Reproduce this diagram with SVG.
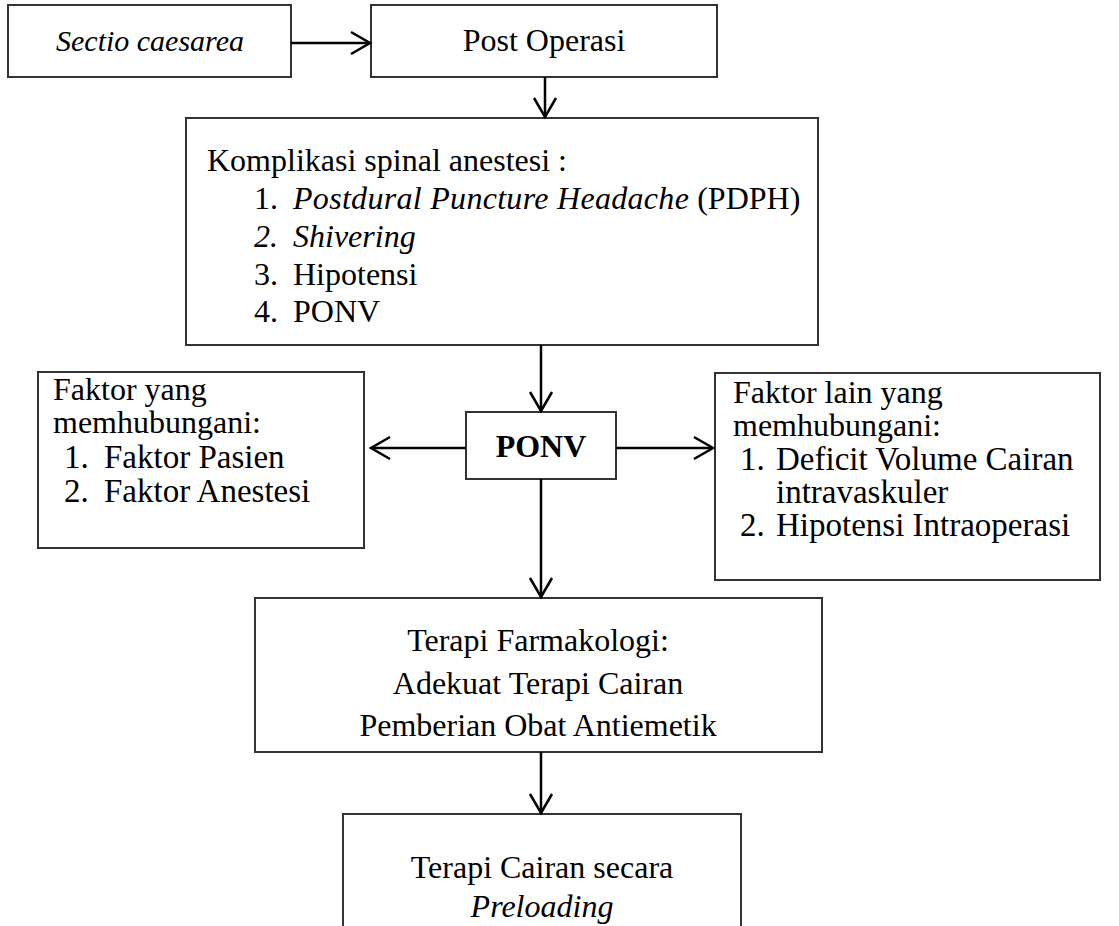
<svg xmlns="http://www.w3.org/2000/svg" width="1119" height="926" viewBox="0 0 1119 926">
<style>
.box{fill:#fff;stroke:#333;stroke-width:2}
.t{font-family:"Liberation Serif","Times New Roman",serif;font-size:32px;fill:#000}
.i{font-style:italic}
.b{font-weight:bold}
.c{text-anchor:middle}
.big{font-size:33px}
.con line{stroke:#000;stroke-width:2.5}
</style>
<defs>
<marker id="arr" markerUnits="userSpaceOnUse" markerWidth="26" markerHeight="28" refX="21" refY="14" orient="auto">
<path d="M2,3 L21,14 L2,25" fill="none" stroke="#000" stroke-width="2.5"/>
</marker>
</defs>
<rect width="1119" height="926" fill="#fff"/>

<g id="n-sectio">
<rect class="box" x="8" y="5" width="283" height="72"/>
<text class="t i c" x="150" y="51" style="font-size:30px">Sectio caesarea</text>
</g>

<g id="n-post">
<rect class="box" x="371" y="5" width="346" height="72"/>
<text class="t c" x="544" y="51">Post Operasi</text>
</g>

<g id="n-komplikasi">
<rect class="box" x="186" y="118" width="632" height="227"/>
<text class="t" x="207" y="171">Komplikasi spinal anestesi :</text>
<text class="t" x="254" y="209">1.</text>
<text class="t" x="293" y="209"><tspan class="i" letter-spacing="0.3">Postdural Puncture Headache</tspan> (PDPH)</text>
<text class="t i" x="254" y="247">2.</text>
<text class="t i" x="293" y="247">Shivering</text>
<text class="t" x="254" y="285">3.</text>
<text class="t" x="293" y="285">Hipotensi</text>
<text class="t" x="254" y="322">4.</text>
<text class="t" x="293" y="322">PONV</text>
</g>

<g id="n-ponv">
<rect class="box" x="466" y="412" width="150" height="67"/>
<text class="t b c" x="541" y="457">PONV</text>
</g>

<g id="n-faktor">
<rect class="box" x="38" y="372" width="326" height="176"/>
<text class="t" x="53" y="400">Faktor yang</text>
<text class="t" x="53" y="433">memhubungani:</text>
<text class="t big" x="64" y="468">1.</text>
<text class="t big" x="104" y="468">Faktor Pasien</text>
<text class="t big" x="64" y="502">2.</text>
<text class="t big" x="104" y="502">Faktor Anestesi</text>
</g>

<g id="n-faktor-lain">
<rect class="box" x="715" y="373" width="385" height="207"/>
<text class="t" x="733" y="403">Faktor lain yang</text>
<text class="t" x="733" y="436">memhubungani:</text>
<text class="t big" x="740" y="470">1.</text>
<text class="t big" x="776" y="470">Deficit Volume Cairan</text>
<text class="t big" x="776" y="503">intravaskuler</text>
<text class="t big" x="740" y="536">2.</text>
<text class="t big" x="776" y="536">Hipotensi Intraoperasi</text>
</g>

<g id="n-terapi">
<rect class="box" x="255" y="598" width="567" height="154"/>
<text class="t c" x="538" y="651">Terapi Farmakologi:</text>
<text class="t c" x="538" y="694">Adekuat Terapi Cairan</text>
<text class="t c" x="538" y="736">Pemberian Obat Antiemetik</text>
</g>

<g id="n-preloading">
<path class="box" d="M343,930 L343,814 L741,814 L741,930" fill="none"/>
<text class="t c" x="542" y="878">Terapi Cairan secara</text>
<text class="t i c" x="542" y="917">Preloading</text>
</g>

<g id="connectors" class="con">
<line x1="291" y1="43" x2="370" y2="43" marker-end="url(#arr)"/>
<line x1="545" y1="77" x2="545" y2="117" marker-end="url(#arr)"/>
<line x1="541" y1="345" x2="541" y2="411" marker-end="url(#arr)"/>
<line x1="466" y1="448" x2="371" y2="448" marker-end="url(#arr)"/>
<line x1="616" y1="448" x2="713" y2="448" marker-end="url(#arr)"/>
<line x1="541" y1="479" x2="541" y2="597" marker-end="url(#arr)"/>
<line x1="541" y1="752" x2="541" y2="813" marker-end="url(#arr)"/>
</g>
</svg>
